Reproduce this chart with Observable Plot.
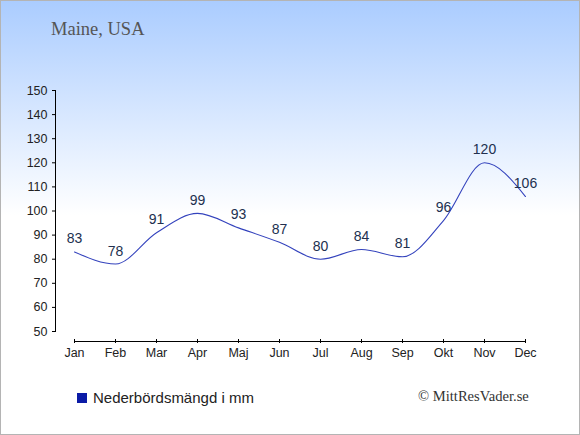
<!DOCTYPE html>
<html>
<head>
<meta charset="utf-8">
<script src="https://cdn.jsdelivr.net/npm/d3@7"></script>
<script src="https://cdn.jsdelivr.net/npm/@observablehq/plot@0.6"></script>
<style>
  html, body { margin: 0; padding: 0; background: #fff; }
  #wrap {
    position: relative; width: 580px; height: 435px; overflow: hidden;
    background: linear-gradient(to bottom, #aaccff 0px, #ffffff 215px, #ffffff 435px);
  }
  #border { position: absolute; left: 0; top: 0; width: 578px; height: 433px; border: 1px solid #b4b4b4; pointer-events: none; }
  #title { position: absolute; left: 51px; top: 19px; font-family: "Liberation Serif", "Times New Roman", serif; font-size: 18.5px; color: #555; }
  #legend { position: absolute; left: 77px; top: 389px; font-family: "Liberation Sans", Arial, sans-serif; font-size: 15px; color: #222; display: flex; align-items: center; }
  #legend .sw { width: 10px; height: 10px; background: #0b1ba6; margin-right: 6px; }
  #credit { position: absolute; left: 418px; top: 388px; font-family: "Liberation Serif", "Times New Roman", serif; font-size: 14.6px; color: #333; }
  #chart { position: absolute; left: 0; top: 0; }
</style>
</head>
<body>
<div id="wrap">
  <div id="chart"></div>
  <div id="title">Maine, USA</div>
  <div id="legend"><span class="sw"></span><span id="legendText"></span></div>
  <div id="credit">© MittResVader.se</div>
  <div id="border"></div>
</div>
<script>
const months = ["Jan","Feb","Mar","Apr","Maj","Jun","Jul","Aug","Sep","Okt","Nov","Dec"];
const precipitation = [83,78,91,99,93,87,80,84,81,96,120,106];
const yTicks = [50,60,70,80,90,100,110,120,130,140,150];
const seriesName = "Nederbördsmängd i mm";

document.getElementById("legendText").textContent = seriesName;

const data = months.map((m, i) => ({month: m, value: precipitation[i]}));

const chart = Plot.plot({
  width: 580,
  height: 435,
  marginLeft: 55,
  marginRight: 55,
  marginTop: 90,
  marginBottom: 104,
  style: {background: "transparent", fontFamily: "Liberation Sans, Arial, sans-serif", fontSize: "12.5px", color: "#222"},
  x: {type: "point", domain: months, range: [74, 525], padding: 0},
  y: {domain: [50, 150], range: [331, 90]},
  marks: [
    Plot.frame({anchor: "left", stroke: "#000"}),
    Plot.axisY({ticks: yTicks, tickSize: 3, tickPadding: 5, fontSize: 12.5, fill: "#222", stroke: "#000", label: null}),
    Plot.ruleY([50], {x1: () => months[0], x2: () => months[months.length - 1], dy: 10, stroke: "#000"}),
    Plot.axisX({tickSize: 4, dy: 8, tickPadding: 5, fontSize: 12.5, fill: "#222", stroke: "#000", label: null}),
    Plot.line(data, {x: "month", y: "value", curve: "monotone-x", stroke: "#3443bd", strokeWidth: 1.1}),
    Plot.text(data, {x: "month", y: "value", text: d => String(d.value), dy: -13, fontSize: 14, fill: "#22304f"})
  ]
});
document.getElementById("chart").appendChild(chart);
</script>
</body>
</html>
